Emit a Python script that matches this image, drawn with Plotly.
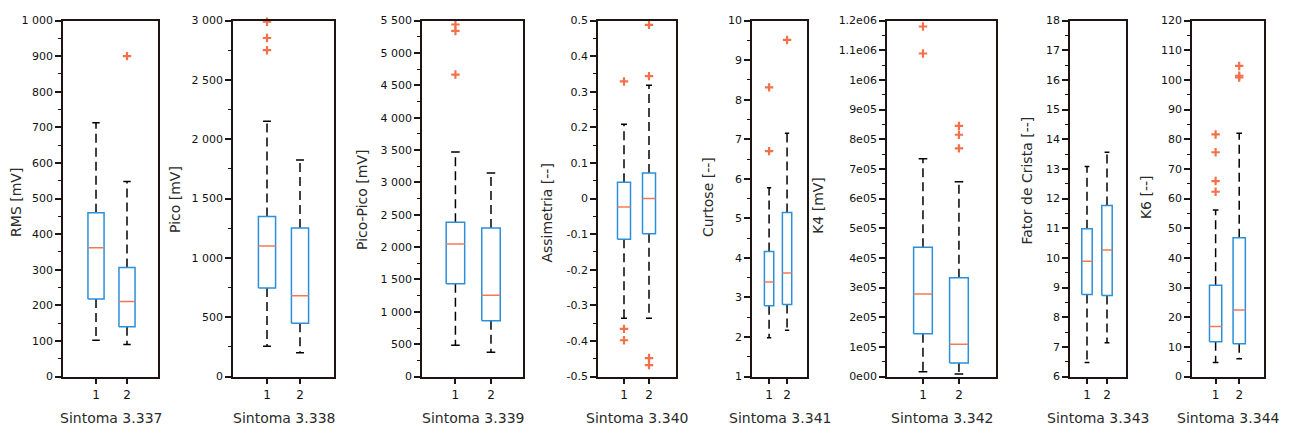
import plotly.graph_objects as go

# ---- data: two groups (1, 2) per symptom indicator ----
panel_titles = ["Sintoma 3.337", "Sintoma 3.338", "Sintoma 3.339", "Sintoma 3.340",
                "Sintoma 3.341", "Sintoma 3.342", "Sintoma 3.343", "Sintoma 3.344"]
y_titles = ["RMS [mV]", "Pico [mV]", "Pico-Pico [mV]", "Assimetria [--]",
            "Curtose [--]", "K4 [mV]", "Fator de Crista [--]", "K6 [--]"]
groups = [1, 2]

whisker_low = [[102, 90], [256, 201], [484, 374], [-0.336, -0.336],
               [1.98, 2.17], [16000, 9000], [6.47, 7.14], [4.7, 6.0]]
q1 = [[218, 140], [746, 449], [1432, 863], [-0.114, -0.099],
      [2.79, 2.82], [144000, 46000], [8.77, 8.73], [11.7, 11.1]]
median = [[362, 211], [1100, 681], [2046, 1257], [-0.024, 0.0],
          [3.39, 3.62], [278000, 109000], [9.89, 10.27], [16.9, 22.4]]
q3 = [[460, 306], [1348, 1252], [2385, 2295], [0.046, 0.072],
      [4.16, 5.15], [436000, 333000], [10.98, 11.77], [30.8, 46.8]]
whisker_high = [[713, 548], [2151, 1824], [3468, 3144], [0.209, 0.318],
                [5.77, 7.15], [734000, 657000], [13.08, 13.56], [56.1, 82.0]]
outliers = [
    [[], [900]],
    [[2750, 2853, 2990], []],
    [[4666, 5339, 5439], []],
    [[0.329, -0.366, -0.398], [0.344, 0.488, -0.448, -0.468]],
    [[6.70, 8.31], [9.51]],
    [[1180000, 1089000], [845000, 815000, 769000]],
    [[], []],
    [[81.6, 75.6, 65.9, 62.3], [104.7, 101.4, 100.8]],
]

y_ranges = [[0, 1000], [0, 3000], [0, 5500], [-0.5, 0.5],
            [1, 10], [0, 1.2e6], [6, 18], [0, 120]]
tick_vals = [
    [0, 100, 200, 300, 400, 500, 600, 700, 800, 900, 1000],
    [0, 500, 1000, 1500, 2000, 2500, 3000],
    [0, 500, 1000, 1500, 2000, 2500, 3000, 3500, 4000, 4500, 5000, 5500],
    [-0.5, -0.4, -0.3, -0.2, -0.1, 0, 0.1, 0.2, 0.3, 0.4, 0.5],
    [1, 2, 3, 4, 5, 6, 7, 8, 9, 10],
    [0, 1e5, 2e5, 3e5, 4e5, 5e5, 6e5, 7e5, 8e5, 9e5, 1e6, 1.1e6, 1.2e6],
    [6, 7, 8, 9, 10, 11, 12, 13, 14, 15, 16, 17, 18],
    [0, 10, 20, 30, 40, 50, 60, 70, 80, 90, 100, 110, 120],
]
tick_text = [
    ["0", "100", "200", "300", "400", "500", "600", "700", "800", "900", "1 000"],
    ["0", "500", "1 000", "1 500", "2 000", "2 500", "3 000"],
    ["0", "500", "1 000", "1 500", "2 000", "2 500", "3 000", "3 500", "4 000",
     "4 500", "5 000", "5 500"],
    ["-0.5", "-0.4", "-0.3", "-0.2", "-0.1", "0", "0.1", "0.2", "0.3", "0.4", "0.5"],
    ["1", "2", "3", "4", "5", "6", "7", "8", "9", "10"],
    ["0e00", "1e05", "2e05", "3e05", "4e05", "5e05", "6e05", "7e05", "8e05",
     "9e05", "1e06", "1.1e06", "1.2e06"],
    ["6", "7", "8", "9", "10", "11", "12", "13", "14", "15", "16", "17", "18"],
    ["0", "10", "20", "30", "40", "50", "60", "70", "80", "90", "100", "110", "120"],
]
minor_steps = [50, 250, 250, 0.05, 0.5, 5e4, 0.5, 5]

# ---- layout geometry (pixels in a 1290 x 434 page) ----
W, H = 1290, 434
plot_left = [63, 233, 422, 598, 752, 887, 1070, 1192]
plot_right = [158, 334, 523, 676, 807, 996, 1126, 1264]
x_ranges = [[-0.065, 3.0], [-0.03, 3.03], [0.06, 2.9], [-0.04, 3.08],
            [0.05, 3.11], [0.0, 3.03], [0.15, 2.95], [0.0, 3.05]]
plot_top, plot_bottom = 15, 382
ytitle_x = [16, 175, 362, 547, 708, 818, 1027, 1146]
ytitle_y = [203, 200, 200, 213, 197, 205, 180, 197]

BOX_HALF = 0.26
CAP_HALF = 0.12
BOX_COLOR = "#2b8fd9"
MED_COLOR = "#f27a55"
OUT_COLOR = "#f4704a"
FRAME = "#1e1414"
TXT = "#2a2a2a"
FONT = "DejaVu Sans"

fig = go.Figure()

for i in range(8):
    xa = "x" if i == 0 else f"x{i + 1}"
    ya = "y" if i == 0 else f"y{i + 1}"
    for g, c in enumerate(groups):
        lo, a, m, b, hi = (whisker_low[i][g], q1[i][g], median[i][g],
                           q3[i][g], whisker_high[i][g])
        # dashed whiskers
        fig.add_trace(go.Scatter(
            x=[c, c, None, c, c], y=[b, hi, None, a, lo], xaxis=xa, yaxis=ya,
            mode="lines", line=dict(color="black", width=1.5, dash="9px,5px"),
            hoverinfo="skip", showlegend=False))
        # whisker caps
        fig.add_trace(go.Scatter(
            x=[c - CAP_HALF, c + CAP_HALF, None, c - CAP_HALF, c + CAP_HALF],
            y=[hi, hi, None, lo, lo], xaxis=xa, yaxis=ya,
            mode="lines", line=dict(color="black", width=1.5),
            hoverinfo="skip", showlegend=False))
        # box
        fig.add_trace(go.Scatter(
            x=[c - BOX_HALF, c + BOX_HALF, c + BOX_HALF, c - BOX_HALF, c - BOX_HALF],
            y=[a, a, b, b, a], xaxis=xa, yaxis=ya, mode="lines",
            fill="toself", fillcolor="white",
            line=dict(color=BOX_COLOR, width=1.5),
            hoverinfo="skip", showlegend=False))
        # median
        fig.add_trace(go.Scatter(
            x=[c - BOX_HALF, c + BOX_HALF], y=[m, m], xaxis=xa, yaxis=ya,
            mode="lines", line=dict(color=MED_COLOR, width=1.5),
            hoverinfo="skip", showlegend=False))
        # outliers
        pts = outliers[i][g]
        if pts:
            fig.add_trace(go.Scatter(
                x=[c] * len(pts), y=pts, xaxis=xa, yaxis=ya, mode="markers",
                marker=dict(symbol="cross-thin", size=6,
                            line=dict(color=OUT_COLOR, width=2.2)),
                cliponaxis=False, hoverinfo="skip", showlegend=False))

layout = dict(
    width=W, height=H, margin=dict(l=0, r=0, t=0, b=0),
    paper_bgcolor="white", plot_bgcolor="white", showlegend=False,
    font=dict(family=FONT, color=TXT),
)
annotations = []
for i in range(8):
    xk = "xaxis" if i == 0 else f"xaxis{i + 1}"
    yk = "yaxis" if i == 0 else f"yaxis{i + 1}"
    ya = "y" if i == 0 else f"y{i + 1}"
    xa = "x" if i == 0 else f"x{i + 1}"
    layout[xk] = dict(
        domain=[plot_left[i] / W, plot_right[i] / W], anchor=ya,
        range=x_ranges[i], tickvals=groups, ticktext=[str(g) for g in groups],
        ticks="outside", ticklen=6, tickwidth=1.5, tickcolor=FRAME,
        showline=True, linecolor=FRAME, linewidth=1.8, mirror=True,
        showgrid=False, zeroline=False, fixedrange=True,
        tickfont=dict(size=12, color="#111111"),
    )
    layout[yk] = dict(
        domain=[1 - plot_bottom / H, 1 - plot_top / H], anchor=xa,
        range=y_ranges[i], tickvals=tick_vals[i], ticktext=tick_text[i],
        ticks="outside", ticklen=6, tickwidth=1.5, tickcolor=FRAME,
        minor=dict(dtick=minor_steps[i], tick0=y_ranges[i][0], ticks="outside",
                   ticklen=3, tickwidth=1.2, tickcolor=FRAME, showgrid=False),
        showline=True, linecolor=FRAME, linewidth=1.8, mirror=True,
        showgrid=False, zeroline=False, fixedrange=True,
        tickfont=dict(size=11, color="#111111"),
    )
    annotations.append(dict(
        text=panel_titles[i], xref="paper", yref="paper",
        x=(plot_left[i] + plot_right[i]) / 2 / W, y=1 - 425 / H,
        xanchor="center", yanchor="middle", showarrow=False,
        font=dict(size=14, color=TXT)))
    annotations.append(dict(
        text=y_titles[i], xref="paper", yref="paper", textangle=-90,
        x=ytitle_x[i] / W, y=1 - ytitle_y[i] / H,
        xanchor="center", yanchor="middle", showarrow=False,
        font=dict(size=14, color=TXT)))
layout["annotations"] = annotations
fig.update_layout(**layout)

fig.write_html("out.html")
